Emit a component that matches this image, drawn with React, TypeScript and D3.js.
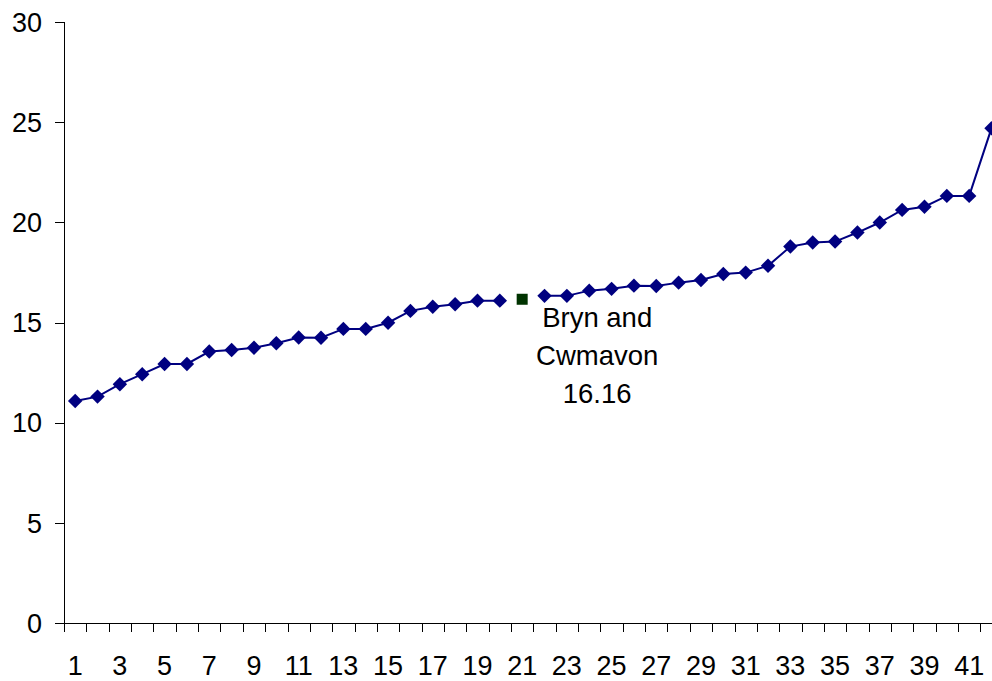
import React from "react";
import * as d3 from "d3";

const categories: number[] = Array.from({ length: 42 }, (_, i) => i + 1);
const values: (number | null)[] = [
  11.08, 11.3, 11.92, 12.42, 12.93, 12.93, 13.55, 13.63, 13.74, 13.96,
  14.25, 14.24, 14.68, 14.68, 14.99, 15.58, 15.79, 15.91, 16.09, 16.09,
  null, 16.33, 16.33, 16.59, 16.68, 16.84, 16.82, 16.99, 17.12, 17.42,
  17.49, 17.83, 18.79, 18.99, 19.04, 19.49, 19.99, 20.62, 20.78, 21.32,
  21.32, 24.7,
];
const highlightCategory = 21;
const highlightValue = 16.16;
const highlightLabel = ["Bryn and", "Cwmavon", "16.16"];
const yTicks = [0, 5, 10, 15, 20, 25, 30];
const xTickLabels = categories.filter((c) => c % 2 === 1);

const W = 992;
const H = 681;
const left = 64;
const step = 22.35;
const top = 22;
const bottom = 623;
const FONT = "Liberation Sans, Arial, sans-serif";

export default function App() {
  const x = d3
    .scaleBand<number>()
    .domain(categories)
    .range([left, left + categories.length * step])
    .padding(0);
  const y = d3.scaleLinear().domain([0, 30]).range([bottom, top]);
  const cx = (c: number) => (x(c) as number) + x.bandwidth() / 2;

  const pts = categories.map((c, i) => ({ c, v: values[i] }));
  const line = d3
    .line<{ c: number; v: number | null }>()
    .defined((d) => d.v !== null)
    .x((d) => cx(d.c))
    .y((d) => y(d.v as number));

  const diamond = d3.symbol(d3.symbolSquare, 104)();

  const hx = cx(highlightCategory);
  const hy = y(highlightValue);
  const xEnd = left + categories.length * step;

  return (
    <svg
      width={W}
      height={H}
      style={{ position: "absolute", left: 0, top: 0, background: "#fff" }}
      fontFamily={FONT}
    >
      <rect x={0} y={0} width={W} height={H} fill="#fff" />
      {/* y axis */}
      <line x1={left + 0.5} x2={left + 0.5} y1={y(30)} y2={y(0)} stroke="#000" strokeWidth={1} />
      {yTicks.map((t) => (
        <g key={t}>
          <line x1={left - 9} x2={left} y1={Math.round(y(t)) + 0.5} y2={Math.round(y(t)) + 0.5} stroke="#000" />
          <text x={42} y={y(t)} dy="0.36em" textAnchor="end" fontSize={27} fill="#000">
            {t}
          </text>
        </g>
      ))}
      {/* x axis */}
      <line x1={left} x2={xEnd} y1={y(0) + 0.5} y2={y(0) + 0.5} stroke="#000" />
      {d3.range(categories.length + 1).map((i) => (
        <line
          key={i}
          x1={Math.round(left + i * step) + 0.5}
          x2={Math.round(left + i * step) + 0.5}
          y1={y(0)}
          y2={y(0) + 9}
          stroke="#000"
        />
      ))}
      {xTickLabels.map((c) => (
        <text key={c} x={cx(c)} y={675} textAnchor="middle" fontSize={27} fill="#000">
          {c}
        </text>
      ))}
      {/* series */}
      <path d={line(pts) || ""} fill="none" stroke="#000080" strokeWidth={2} />
      {pts
        .filter((d) => d.v !== null)
        .map((d) => (
          <path
            key={d.c}
            d={diamond}
            transform={`translate(${cx(d.c)},${y(d.v as number)}) rotate(45)`}
            fill="#000080"
          />
        ))}
      <rect x={hx - 5.5} y={hy - 5.5} width={11} height={11} fill="#003300" />
      {highlightLabel.map((s, i) => (
        <text
          key={s}
          x={hx + 75}
          y={hy + 28 + i * 38}
          textAnchor="middle"
          fontSize={27.5}
          fill="#000"
        >
          {s}
        </text>
      ))}
    </svg>
  );
}
